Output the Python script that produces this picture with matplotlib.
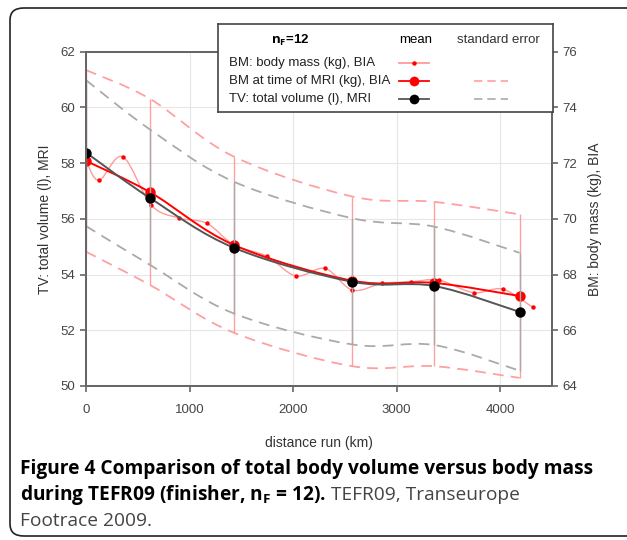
import numpy as np
import matplotlib
matplotlib.use('Agg')
import matplotlib.pyplot as plt
from matplotlib.path import Path
from matplotlib.patches import PathPatch, FancyBboxPatch
from matplotlib.lines import Line2D

plt.rcParams['font.family'] = ['Liberation Sans', 'DejaVu Sans']
plt.rcParams['mathtext.fontset'] = 'custom'
plt.rcParams['mathtext.rm'] = 'Open Sans'
plt.rcParams['mathtext.bf'] = 'Open Sans:bold'

# Measurement stages (km) - MRI + BIA at the same time
stage_km = [0, 621, 1430, 2573, 3362, 4187]

# TV: total volume (l), MRI
tv_mean = [58.38, 56.74, 54.96, 53.74, 53.59, 52.66]
tv_se_upper = [60.98, 59.20, 57.33, 56.02, 55.72, 54.78]
tv_se_lower = [55.74, 54.34, 52.60, 51.49, 51.47, 50.55]

# BM at time of MRI (kg), BIA
bm_mri_mean = [72.08, 70.95, 69.06, 67.78, 67.70, 67.23]
bm_se_upper = [75.34, 74.30, 72.23, 70.80, 70.61, 70.16]
bm_se_lower = [68.82, 67.62, 65.91, 64.71, 64.71, 64.29]

# BM: body mass (kg), BIA - all BIA measurements
bm_km = [0, 126, 354, 628, 895, 1166, 1430, 1746, 2026, 2309, 2573, 2857, 3140, 3408, 3742, 4022, 4312]
bm_all = [72.08, 71.38, 72.23, 70.50, 70.03, 69.84, 69.06, 68.66, 67.95, 68.22, 67.44, 67.68,
          67.74, 67.80, 67.35, 67.48, 66.83]

RED = '#ff0000'
RED_LIGHT = '#ffa0a0'
GREY_DARK = '#555555'
GREY_LIGHT = '#aaaaaa'


def smooth_path(x, y):
    # Catmull-Rom curve through the points, as bezier segments
    pts = np.column_stack([x, y]).astype(float)
    verts = [pts[0]]
    codes = [Path.MOVETO]
    n = len(pts)
    for i in range(n - 1):
        p0 = pts[max(i - 1, 0)]
        p1 = pts[i]
        p2 = pts[i + 1]
        p3 = pts[min(i + 2, n - 1)]
        verts += [p1 + (p2 - p0) / 6, p2 - (p3 - p1) / 6, p2]
        codes += [Path.CURVE4] * 3
    return Path(verts, codes)


def curve(ax, x, y, **kw):
    ax.add_patch(PathPatch(smooth_path(x, y), fill=False, **kw))


fig = plt.figure(figsize=(6.27, 5.40), dpi=100)

# rounded frame round the figure (right side runs off the picture)
fig.patches.append(FancyBboxPatch((10 / 627, 1 - 536 / 540), 700 / 627, 528 / 540,
                                  boxstyle='round,pad=0,rounding_size=0.022',
                                  transform=fig.transFigure, fill=False,
                                  edgecolor='#222222', linewidth=1.2))

ax2 = fig.add_axes([86 / 627, 1 - 386 / 540, 466 / 627, 334.3 / 540])
ax = ax2.twinx()
ax.yaxis.tick_left()
ax.yaxis.set_label_position('left')
ax2.yaxis.tick_right()
ax2.yaxis.set_label_position('right')
ax.set_zorder(ax2.get_zorder() + 1)
ax.patch.set_visible(False)

ax2.set_xlim(0, 4500)
ax.set_ylim(50, 62)
ax2.set_ylim(64, 76)
ax.set_yticks(range(50, 63, 2))
ax2.set_yticks(range(64, 77, 2))
ax2.set_xticks(range(0, 4001, 1000))

ax2.grid(True, color='#e6e6e6', linewidth=0.8)
ax2.set_axisbelow(True)

for a in (ax, ax2):
    for s in a.spines.values():
        s.set_color('#666666')
        s.set_linewidth(1.4)
    a.tick_params(colors='#666666', labelcolor='#444444', labelsize=9.5,
                  length=4, width=1.2, direction='out')
ax2.tick_params(axis='x', pad=9)

# standard error bands (BM)
curve(ax2, stage_km, bm_se_upper, edgecolor=RED_LIGHT, linewidth=1.3, linestyle=(0, (6, 4)))
curve(ax2, stage_km, bm_se_lower, edgecolor=RED_LIGHT, linewidth=1.3, linestyle=(0, (6, 4)))
ax2.vlines(stage_km, bm_se_lower, bm_se_upper, color=RED_LIGHT, linewidth=1)

# BM all measurements
curve(ax2, bm_km, bm_all, edgecolor='#ff9a9a', linewidth=1)
ax2.plot(bm_km, bm_all, 'o', color=RED, markersize=3.2, markeredgewidth=0)

# BM at time of MRI
curve(ax2, stage_km, bm_mri_mean, edgecolor=RED, linewidth=1.4)
ax2.plot(stage_km, bm_mri_mean, 'o', color=RED, markersize=7.5, markeredgewidth=0)

# standard error bands (TV)
curve(ax, stage_km, tv_se_upper, edgecolor=GREY_LIGHT, linewidth=1.3, linestyle=(0, (6, 4)))
curve(ax, stage_km, tv_se_lower, edgecolor=GREY_LIGHT, linewidth=1.3, linestyle=(0, (6, 4)))
ax.vlines(stage_km, tv_se_lower, tv_se_upper, color=GREY_LIGHT, linewidth=1)

# TV mean
curve(ax, stage_km, tv_mean, edgecolor=GREY_DARK, linewidth=1.4)
ax.plot(stage_km, tv_mean, 'o', color='black', markersize=7.5, markeredgewidth=0)

ax.set_ylabel('TV: total volume (l), MRI', fontsize=10, color='#333333', labelpad=6)
ax2.set_ylabel('BM: body mass (kg), BIA', fontsize=10, color='#333333', labelpad=8)
ax2.set_xlabel('distance run (km)', fontsize=10, color='#333333', labelpad=14)

# legend box
lg = fig.add_axes([218 / 627, 1 - 112 / 540, 335 / 627, 88 / 540])
lg.set_xlim(218, 553)
lg.set_ylim(112, 24)
lg.set_xticks([])
lg.set_yticks([])
for s in lg.spines.values():
    s.set_color('#444444')
    s.set_linewidth(1.2)
lg.set_zorder(5)
lg.text(290, 40, r'$\mathbf{n_F}$=12', fontsize=9.5, fontweight='bold', ha='center', va='center')
lg.text(416, 40, 'mean', fontsize=9.5, ha='center', va='center')
lg.text(498, 40, 'standard error', fontsize=9.5, ha='center', va='center', color='#333333')
rows = [
    ('BM: body mass (kg), BIA', '#ff9a9a', RED, 3.2, None),
    ('BM at time of MRI (kg), BIA', RED, RED, 7, RED_LIGHT),
    ('TV: total volume (l), MRI', GREY_DARK, 'black', 7, GREY_LIGHT),
]
for i, (label, lc, mc, ms, sec) in enumerate(rows):
    yy = 63 + i * 18
    lg.text(229, yy, label, fontsize=9.5, ha='left', va='center', color='#222222')
    lg.add_line(Line2D([399, 429], [yy, yy], color=lc, linewidth=1.3))
    lg.plot([414], [yy], 'o', color=mc, markersize=ms, markeredgewidth=0)
    if sec:
        lg.add_line(Line2D([474, 508], [yy, yy], color=sec, linewidth=1.2, linestyle=(0, (5, 3))))

# caption
cap_kw = dict(fontsize=13.8, family=['Open Sans', 'DejaVu Sans'], va='baseline')
fig.text(20 / 627, 1 - 474 / 540, 'Figure 4 Comparison of total body volume versus body mass',
         fontweight='bold', **cap_kw)
t = fig.text(20 / 627, 1 - 500 / 540, r'during TEFR09 (finisher, $\mathbf{n_F}$ = 12).',
             fontweight='bold', **cap_kw)
fig.canvas.draw()
bb = t.get_window_extent()
fig.text(bb.x1 / fig.bbox.width + 0.007, 1 - 500 / 540, 'TEFR09, Transeurope',
         color='#444444', **cap_kw)
fig.text(20 / 627, 1 - 526 / 540, 'Footrace 2009.', color='#444444', **cap_kw)

fig.savefig('out.png', dpi=100)
